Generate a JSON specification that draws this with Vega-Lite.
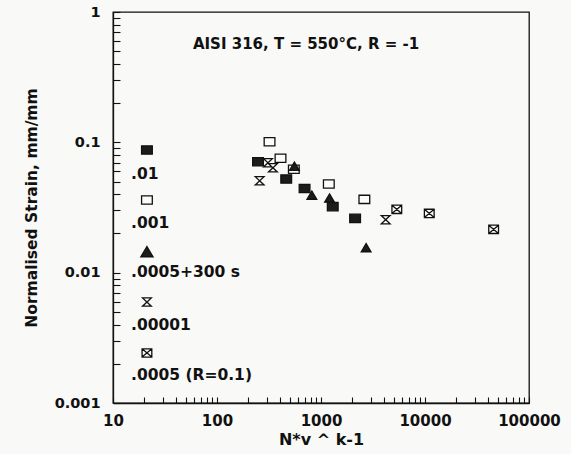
{
  "$schema": "https://vega.github.io/schema/vega-lite/v6.json",
  "autosize": {"type": "none"},
  "padding": {"left": 113, "top": 12, "right": 42, "bottom": 51},
  "width": 416,
  "height": 391,
  "background": "#f9f9f7",
  "config": {
    "view": {"stroke": "#111111", "strokeWidth": 1.3},
    "font": "DejaVu Sans",
    "axis": {
      "grid": false,
      "domainColor": "#111111",
      "domainWidth": 1.3,
      "tickColor": "#111111",
      "tickWidth": 1.1,
      "labelColor": "#111111",
      "titleColor": "#111111",
      "labelFontWeight": "bold",
      "titleFontWeight": "bold",
      "labelOverlap": false,
      "labelBound": false,
      "labelFlush": false
    }
  },
  "datasets": {
    "points": [
      {"N": 320, "strain": 0.101, "series": ".001"},
      {"N": 248, "strain": 0.071, "series": ".01"},
      {"N": 309, "strain": 0.0697, "series": ".00001"},
      {"N": 408, "strain": 0.0754, "series": ".001"},
      {"N": 345, "strain": 0.0638, "series": ".00001"},
      {"N": 548, "strain": 0.0621, "series": ".001"},
      {"N": 555, "strain": 0.0652, "series": ".0005+300 s"},
      {"N": 257, "strain": 0.0507, "series": ".00001"},
      {"N": 463, "strain": 0.0523, "series": ".01"},
      {"N": 1189, "strain": 0.0479, "series": ".001"},
      {"N": 695, "strain": 0.0443, "series": ".01"},
      {"N": 817, "strain": 0.0392, "series": ".0005+300 s"},
      {"N": 1208, "strain": 0.0372, "series": ".0005+300 s"},
      {"N": 1297, "strain": 0.0321, "series": ".01"},
      {"N": 2612, "strain": 0.0365, "series": ".001"},
      {"N": 5358, "strain": 0.0306, "series": ".0005 (R=0.1)"},
      {"N": 2128, "strain": 0.0261, "series": ".01"},
      {"N": 4188, "strain": 0.0255, "series": ".00001"},
      {"N": 2716, "strain": 0.0155, "series": ".0005+300 s"},
      {"N": 10990, "strain": 0.0285, "series": ".0005 (R=0.1)"},
      {"N": 45700, "strain": 0.0215, "series": ".0005 (R=0.1)"},
      {"N": 21.2, "strain": 0.0873, "series": ".01"},
      {"N": 21.2, "strain": 0.0361, "series": ".001"},
      {"N": 21.2, "strain": 0.0144, "series": ".0005+300 s"},
      {"N": 21.2, "strain": 0.00595, "series": ".00001"},
      {"N": 21.2, "strain": 0.00242, "series": ".0005 (R=0.1)"}
    ],
    "labels": [
      {"N": 14.9, "strain": 0.0571, "label": ".01"},
      {"N": 14.9, "strain": 0.024, "label": ".001"},
      {"N": 14.9, "strain": 0.0101, "label": ".0005+300 s"},
      {"N": 14.9, "strain": 0.00396, "label": ".00001"},
      {"N": 14.9, "strain": 0.00164, "label": ".0005 (R=0.1)"}
    ],
    "heading": [
      {"N": 718, "strain": 0.568, "label": "AISI 316, T = 550°C, R = -1"}
    ]
  },
  "encoding": {
    "x": {
      "field": "N",
      "type": "quantitative",
      "scale": {"type": "log", "domain": [10, 100000], "nice": false},
      "axis": {
        "title": "N*v ^ k-1",
        "values": [10, 20, 30, 40, 50, 60, 70, 80, 90, 100, 200, 300, 400, 500, 600, 700, 800, 900, 1000, 2000, 3000, 4000, 5000, 6000, 7000, 8000, 9000, 10000, 20000, 30000, 40000, 50000, 60000, 70000, 80000, 90000, 100000],
        "format": "d",
        "labelExpr": "indexof([10, 100, 1000, 10000, 100000], datum.value) >= 0 ? datum.label : ''",
        "tickSize": -6,
        "labelPadding": 16,
        "labelFontSize": 15,
        "titleFontSize": 16,
        "titlePadding": 3
      }
    },
    "y": {
      "field": "strain",
      "type": "quantitative",
      "scale": {"type": "log", "domain": [0.001, 1], "nice": false},
      "axis": {
        "title": "Normalised Strain, mm/mm",
        "values": [0.001, 0.002, 0.003, 0.004, 0.005, 0.006, 0.007, 0.008, 0.009, 0.01, 0.02, 0.03, 0.04, 0.05, 0.06, 0.07, 0.08, 0.09, 0.1, 0.2, 0.3, 0.4, 0.5, 0.6, 0.7, 0.8, 0.9, 1],
        "format": "~g",
        "labelExpr": "indexof([0.001, 0.01, 0.1, 1], datum.value) >= 0 ? datum.label : ''",
        "tickSize": -7,
        "labelPadding": 20,
        "labelFontSize": 14.5,
        "titleFontSize": 15.5,
        "titlePadding": 15
      }
    }
  },
  "layer": [
    {
      "data": {"name": "points"},
      "transform": [{"filter": "!(datum.N < 30 && datum.series == '.0005+300 s')"}],
      "mark": {"type": "point", "filled": true, "stroke": "#111111", "strokeWidth": 1.3, "opacity": 1},
      "encoding": {
        "shape": {
          "field": "series",
          "scale": {
            "domain": [".01", ".001", ".0005+300 s", ".00001", ".0005 (R=0.1)"],
            "range": ["M-1.1,-0.85H1.1V0.85H-1.1Z", "M-1.1,-0.85H1.1V0.85H-1.1Z", "M0,-0.9L1,0.8H-1Z", "M-0.9,-0.85H0.9L-0.9,0.85H0.9Z", "M-1,-0.85H1V0.85H-1ZM-1,-0.85L1,0.85M1,-0.85L-1,0.85"]
          },
          "legend": null
        },
        "fill": {
          "field": "series",
          "scale": {
            "domain": [".01", ".001", ".0005+300 s", ".00001", ".0005 (R=0.1)"],
            "range": ["#1c1c1c", "#fcfcfc", "#1c1c1c", "#fcfcfc", "#fcfcfc"]
          },
          "legend": null
        },
        "size": {"value": 95}
      }
    },
    {
      "data": {"name": "points"},
      "transform": [{"filter": "datum.N < 30 && datum.series == '.0005+300 s'"}],
      "mark": {"type": "point", "filled": true, "fill": "#1c1c1c", "stroke": "#111111", "strokeWidth": 1.3, "opacity": 1, "shape": "M0,-0.9L1,0.8H-1Z"},
      "encoding": {"size": {"value": 150}}
    },
    {
      "data": {"name": "labels"},
      "mark": {"type": "text", "align": "left", "baseline": "middle", "font": "DejaVu Sans", "fontWeight": "bold", "fontSize": 15.5, "color": "#111111"},
      "encoding": {"text": {"field": "label"}}
    },
    {
      "data": {"name": "heading"},
      "mark": {"type": "text", "align": "center", "baseline": "middle", "font": "DejaVu Sans", "fontWeight": "bold", "fontSize": 15, "color": "#111111"},
      "encoding": {"text": {"field": "label"}}
    }
  ]
}
